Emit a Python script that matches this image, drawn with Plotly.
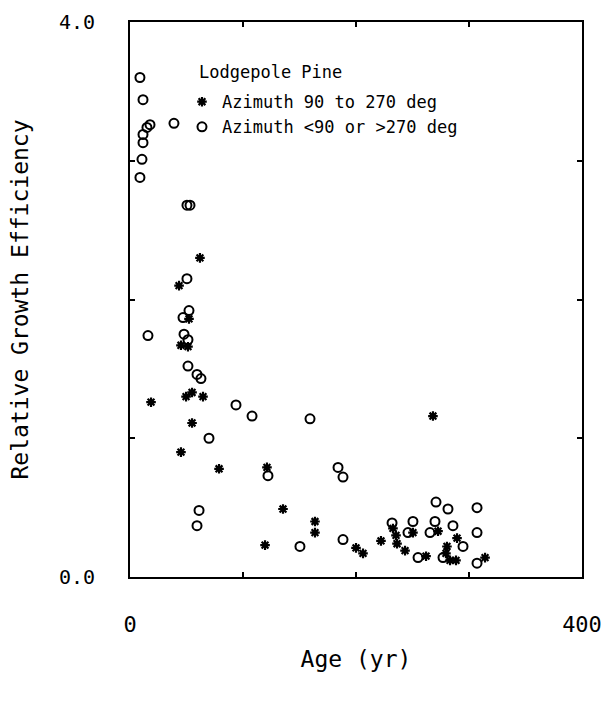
import plotly.graph_objects as go

# Azimuth <90 or >270 deg (open circles)
north_age = [8.8, 11.5, 17.7, 15.0, 11.5, 11.5, 10.6, 8.8, 38.9, 50.4, 53.1, 50.4, 52.2, 46.9,
             15.9, 47.8, 51.3, 51.3, 59.3, 62.8, 93.8, 108.0, 159.3, 69.9, 122.1, 184.1, 188.5,
             61.1, 59.3, 150.4, 188.5, 231.9, 250.4, 246.0, 254.9, 269.9, 270.8, 265.5, 281.4,
             285.8, 294.7, 277.0, 307.1, 307.1, 307.1]
north_rge = [3.60, 3.44, 3.26, 3.24, 3.19, 3.13, 3.01, 2.88, 3.27, 2.68, 2.68, 2.15, 1.92, 1.87,
             1.74, 1.75, 1.71, 1.52, 1.46, 1.43, 1.24, 1.16, 1.14, 1.00, 0.73, 0.79, 0.72,
             0.48, 0.37, 0.22, 0.27, 0.39, 0.40, 0.32, 0.14, 0.40, 0.54, 0.32, 0.49,
             0.37, 0.22, 0.14, 0.50, 0.32, 0.10]

# Azimuth 90 to 270 deg (asterisks)
south_age = [61.9, 43.4, 52.2, 45.1, 51.3, 54.9, 49.6, 64.6, 18.6, 54.9, 45.1, 78.8, 121.2,
             135.4, 163.7, 163.7, 119.5, 268.1, 200.0, 206.2, 222.1, 232.7, 235.4, 236.3,
             243.4, 250.4, 262.0, 272.6, 289.4, 280.5, 279.6, 283.2, 288.5, 314.2]
south_rge = [2.30, 2.10, 1.86, 1.67, 1.66, 1.33, 1.30, 1.30, 1.26, 1.11, 0.90, 0.78, 0.79,
             0.49, 0.40, 0.32, 0.23, 1.16, 0.21, 0.17, 0.26, 0.35, 0.30, 0.24,
             0.19, 0.32, 0.15, 0.33, 0.28, 0.22, 0.17, 0.12, 0.12, 0.14]

x_ticks = [0, 100, 200, 300, 400]
x_ticktext = ["0", "", "", "", "400"]
y_ticks = [0, 1, 2, 3, 4]
y_ticktext = ["0.0", "", "", "", "4.0"]

FONT = "DejaVu Sans Mono"

fig = go.Figure()
fig.add_trace(go.Scatter(
    x=south_age, y=south_rge, mode="markers", name="Azimuth 90 to 270 deg",
    marker=dict(symbol="asterisk-open", size=8, color="black", line=dict(color="black", width=2.2)),
))
fig.add_trace(go.Scatter(
    x=north_age, y=north_rge, mode="markers", name="Azimuth <90 or >270 deg",
    marker=dict(symbol="circle-open", size=9, color="black", line=dict(color="black", width=2)),
))

axis_common = dict(
    showgrid=False, zeroline=False, showline=True, linecolor="black", linewidth=2,
    mirror="allticks", ticks="inside", ticklen=5, tickwidth=1.5, tickcolor="black",
    automargin=False,
)

fig.update_layout(
    width=610, height=702,
    margin=dict(l=130, r=28, t=22, b=125),
    paper_bgcolor="white", plot_bgcolor="white",
    font=dict(family=FONT, color="black"),
    xaxis=dict(range=[0, 400], tickvals=x_ticks, ticktext=x_ticktext,
               ticklabelstandoff=27,
               tickfont=dict(family=FONT, size=22, color="black"),
               title=dict(text="Age (yr)", font=dict(family=FONT, size=23), standoff=14),
               **axis_common),
    yaxis=dict(range=[0, 4], tickvals=y_ticks, ticktext=y_ticktext,
               ticklabelstandoff=29,
               tickfont=dict(family=FONT, size=20, color="black"),
               title=dict(text="Relative Growth Efficiency", font=dict(family=FONT, size=23), standoff=24),
               **axis_common),
    legend=dict(x=0.115, y=0.888, xanchor="left", yanchor="top",
                bgcolor="rgba(0,0,0,0)", borderwidth=0,
                font=dict(family=FONT, size=17, color="black"),
                itemwidth=30, tracegroupgap=0),
    annotations=[dict(text="Lodgepole Pine", x=0.148, y=0.910, xref="paper", yref="paper",
                      xanchor="left", yanchor="middle", showarrow=False,
                      font=dict(family=FONT, size=17, color="black"))],
)

fig.write_html("out.html")
